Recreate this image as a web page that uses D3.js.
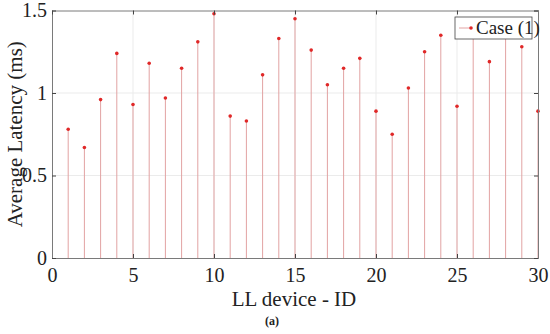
<!DOCTYPE html>
<html>
<head>
<meta charset="utf-8">
<style>
  body { margin: 0; background: #fff; }
</style>
</head>
<body>
<svg width="550" height="334"></svg>
<script src="https://d3js.org/d3.v7.min.js"></script>
<script>

var deviceIds = d3.range(1, 31);
var latency = [0.78, 0.67, 0.96, 1.24, 0.93, 1.18, 0.97, 1.15, 1.31, 1.48,
               0.86, 0.83, 1.11, 1.33, 1.45, 1.26, 1.05, 1.15, 1.21, 0.89,
               0.75, 1.03, 1.25, 1.35, 0.92, 1.42, 1.19, 1.38, 1.28, 0.89];
var xTicks = [0, 5, 10, 15, 20, 25, 30];
var yTicks = [0, 0.5, 1, 1.5];
var seriesName = "Case (1)";

var svg = d3.select("svg");
var margin = {left: 52, right: 12, top: 10.5, bottom: 76};
var width = 550, height = 334;
var serif = "'Times New Roman', 'Liberation Serif', 'DejaVu Serif', serif";

var x = d3.scaleLinear().domain([0, 30]).range([margin.left, width - margin.right]);
var y = d3.scaleLinear().domain([0, 1.5]).range([height - margin.bottom, margin.top]);

// grid
svg.append("g").selectAll("line")
    .data(xTicks.slice(1, -1))
  .enter().append("line")
    .attr("x1", d => x(d)).attr("x2", d => x(d))
    .attr("y1", y(0)).attr("y2", y(1.5))
    .attr("stroke", "#ebebeb");
svg.append("g").selectAll("line")
    .data(yTicks.slice(1, -1))
  .enter().append("line")
    .attr("x1", x(0)).attr("x2", x(30))
    .attr("y1", d => y(d)).attr("y2", d => y(d))
    .attr("stroke", "#ebebeb");

// stems
svg.append("g").selectAll("line")
    .data(latency)
  .enter().append("line")
    .attr("x1", (d, i) => x(deviceIds[i])).attr("x2", (d, i) => x(deviceIds[i]))
    .attr("y1", y(0)).attr("y2", d => y(d))
    .attr("stroke", "#e2a3a3").attr("stroke-width", 1);

svg.append("g").selectAll("circle")
    .data(latency)
  .enter().append("circle")
    .attr("cx", (d, i) => x(deviceIds[i]))
    .attr("cy", d => y(d))
    .attr("r", 1.8)
    .attr("fill", "#e02828");

// axes
svg.append("g")
    .attr("transform", "translate(0," + y(0) + ")")
    .call(d3.axisBottom(x).tickValues(xTicks).tickSize(-4).tickPadding(10).tickFormat(d3.format("d")));
svg.append("g")
    .attr("transform", "translate(" + x(0) + ",0)")
    .call(d3.axisLeft(y).tickValues(yTicks).tickSize(-4).tickPadding(5).tickFormat(d3.format("")));
svg.append("g")
    .attr("transform", "translate(0," + y(1.5) + ")")
    .call(d3.axisTop(x).tickValues(xTicks).tickSize(-4).tickFormat(""));
svg.append("g")
    .attr("transform", "translate(" + x(30) + ",0)")
    .call(d3.axisRight(y).tickValues(yTicks).tickSize(-4).tickFormat(""));

svg.selectAll("g").attr("font-family", null);
svg.selectAll(".domain").attr("stroke", "#7a7a7a");
svg.selectAll(".tick line").attr("stroke", "#444");
svg.selectAll(".tick text").attr("font-size", 20).attr("fill", "#222")
    .style("font-family", serif);

// labels
svg.append("text")
    .attr("transform", "translate(22," + ((y(0) + y(1.5)) / 2) + ") rotate(-90)")
    .attr("text-anchor", "middle")
    .style("font-family", serif)
    .attr("font-size", 21).attr("fill", "#222")
    .text("Average Latency (ms)");
svg.append("text")
    .attr("x", 294).attr("y", 306)
    .attr("text-anchor", "middle")
    .style("font-family", serif)
    .attr("font-size", 21).attr("fill", "#222")
    .text("LL device - ID");
svg.append("text")
    .attr("x", 272).attr("y", 325)
    .attr("text-anchor", "middle")
    .style("font-family", serif)
    .attr("font-size", 12).attr("font-weight", "bold").attr("fill", "#222")
    .text("(a)");

// legend
var lg = svg.append("g").attr("transform", "translate(455,17)");
lg.append("rect").attr("width", 77).attr("height", 22)
    .attr("fill", "#fff").attr("stroke", "#444").attr("stroke-width", 0.8);
lg.append("line").attr("x1", 4).attr("x2", 16).attr("y1", 11).attr("y2", 11)
    .attr("stroke", "#e2a3a3");
lg.append("circle").attr("cx", 16).attr("cy", 11).attr("r", 1.8).attr("fill", "#e02828");
lg.append("text").attr("x", 21).attr("y", 17).style("font-family", serif)
    .attr("font-size", 19).attr("fill", "#222")
    .text(seriesName);

</script>
</body>
</html>
